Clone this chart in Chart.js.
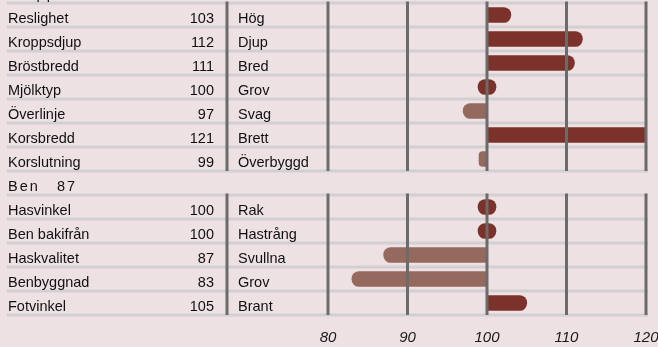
<!DOCTYPE html>
<html>
<head>
<meta charset="utf-8">
<script src="https://cdn.jsdelivr.net/npm/chart.js@4.4.1/dist/chart.umd.min.js"></script>
<style>
    html, body {
        margin: 0;
        padding: 0;
        width: 658px;
        height: 347px;
        overflow: hidden;
        background: #ede1e4;
    }
    #wrap {
        position: absolute;
        left: 0;
        top: -21px;
    }
</style>
</head>
<body>
<div id="wrap"><canvas id="grafico-exteriör" width="680" height="368"></canvas></div>
<script>
// grupper och deras index
const grupper = ['Kropp', 'Ben'];
const gruppIndex = [null, 87];

// linjära egenskaper
const egenskaper = [
    'Reslighet', 'Kroppsdjup', 'Bröstbredd', 'Mjölktyp', 'Överlinje', 'Korsbredd', 'Korslutning',
    'Hasvinkel', 'Ben bakifrån', 'Haskvalitet', 'Benbyggnad', 'Fotvinkel'
];
const tal = [103, 112, 111, 100, 97, 121, 99, 100, 100, 87, 83, 105];
const beskrivning = [
    'Hög', 'Djup', 'Bred', 'Grov', 'Svag', 'Brett', 'Överbyggd',
    'Rak', 'Hastrång', 'Svullna', 'Grov', 'Brant'
];
const tillhorGrupp = [0, 0, 0, 0, 0, 0, 0, 1, 1, 1, 1, 1];

// skalans etiketter
const skalTal = [80, 90, 100, 110, 120];

const mork = '#7a322b';
const ljus = '#94695e';
const textFont = '14.5px "Liberation Sans", Arial, sans-serif';

// en rad per grupprubrik + en rad per egenskap
const rader = [];
grupper.forEach((g, gi) => {
    rader.push({ typ: 'grupp', namn: g, index: gruppIndex[gi], grupp: gi });
    egenskaper.forEach((e, i) => {
        if (tillhorGrupp[i] === gi) {
            rader.push({ typ: 'rad', namn: e, tal: tal[i], text: beskrivning[i], grupp: gi });
        }
    });
});

// tabellen till vänster, radlinjer och lodräta linjer
const tabell = {
    id: 'tabell',
    beforeDatasetsDraw(chart) {
        const { ctx, scales: { y } } = chart;
        const halv = (y.getPixelForValue(1) - y.getPixelForValue(0)) / 2;

        ctx.save();
        ctx.strokeStyle = '#d3cfd0';
        ctx.lineWidth = 3;
        rader.forEach((r, i) => {
            const yb = y.getPixelForValue(i) + halv;
            ctx.beginPath();
            ctx.moveTo(7, yb);
            ctx.lineTo(648, yb);
            ctx.stroke();
        });

        ctx.fillStyle = '#111';
        ctx.font = textFont;
        rader.forEach((r, i) => {
            const yt = y.getPixelForValue(i) + 8;
            if (r.typ === 'grupp') {
                ctx.letterSpacing = '2px';
                ctx.textAlign = 'left';
                ctx.fillText(r.namn, 8, yt);
                if (r.index !== null) ctx.fillText(String(r.index), 57, yt);
                ctx.letterSpacing = '0px';
            } else {
                ctx.textAlign = 'left';
                ctx.fillText(r.namn, 8, yt);
                ctx.textAlign = 'right';
                ctx.fillText(String(r.tal), 214, yt);
                ctx.textAlign = 'left';
                ctx.fillText(r.text, 238, yt);
            }
        });
        ctx.restore();
    },
    afterDatasetsDraw(chart) {
        const { ctx, scales: { x, y } } = chart;
        const halv = (y.getPixelForValue(1) - y.getPixelForValue(0)) / 2;
        const xs = [227].concat(x.ticks.map(t => x.getPixelForValue(t.value)));

        ctx.save();
        ctx.strokeStyle = '#6b6b6b';
        ctx.lineWidth = 3;
        grupper.forEach((g, gi) => {
            const idx = rader.map((r, i) => (r.typ === 'rad' && r.grupp === gi ? i : -1)).filter(i => i >= 0);
            const top = y.getPixelForValue(idx[0]) - halv;
            const bottom = y.getPixelForValue(idx[idx.length - 1]) + halv;
            xs.forEach(px => {
                ctx.beginPath();
                ctx.moveTo(px, top - 1.5);
                ctx.lineTo(px, bottom);
                ctx.stroke();
            });
        });
        ctx.restore();
    }
};

const graf = new Chart(document.getElementById('grafico-exteriör'), {
    type: 'bar',
    data: {
        labels: rader.map(r => r.namn),
        datasets: [{
            data: rader.map(r => (r.typ === 'rad' ? r.tal : null)),
            base: 100,
            backgroundColor: c => (c.raw >= 100 ? mork : ljus),
            borderRadius: 7.5,
            borderSkipped: 'start',
            barThickness: 15,
            grouped: false
        }, {
            // exakt 100 blir en liten oval runt mittlinjen
            data: rader.map(r => (r.typ === 'rad' && r.tal === 100 ? r.tal : null)),
            base: 100,
            minBarLength: 18,
            backgroundColor: mork,
            borderRadius: 7.5,
            borderSkipped: false,
            barThickness: 15,
            grouped: false
        }]
    },
    options: {
        indexAxis: 'y',
        responsive: false,
        animation: false,
        layout: {
            padding: { left: 328, right: 34, top: 0, bottom: 0 }
        },
        scales: {
            x: {
                min: skalTal[0],
                max: skalTal[skalTal.length - 1],
                grid: { display: false, drawTicks: false },
                border: { display: false },
                afterFit: s => { s.height = 32; },
                ticks: {
                    stepSize: skalTal[1] - skalTal[0],
                    padding: 14,
                    color: '#1a1a1a',
                    font: { family: '"Liberation Sans", Arial, sans-serif', size: 15, style: 'italic' }
                }
            },
            y: {
                display: false
            }
        },
        plugins: {
            legend: { display: false },
            tooltip: { enabled: false }
        }
    },
    plugins: [tabell]
});
</script>
</body>
</html>
